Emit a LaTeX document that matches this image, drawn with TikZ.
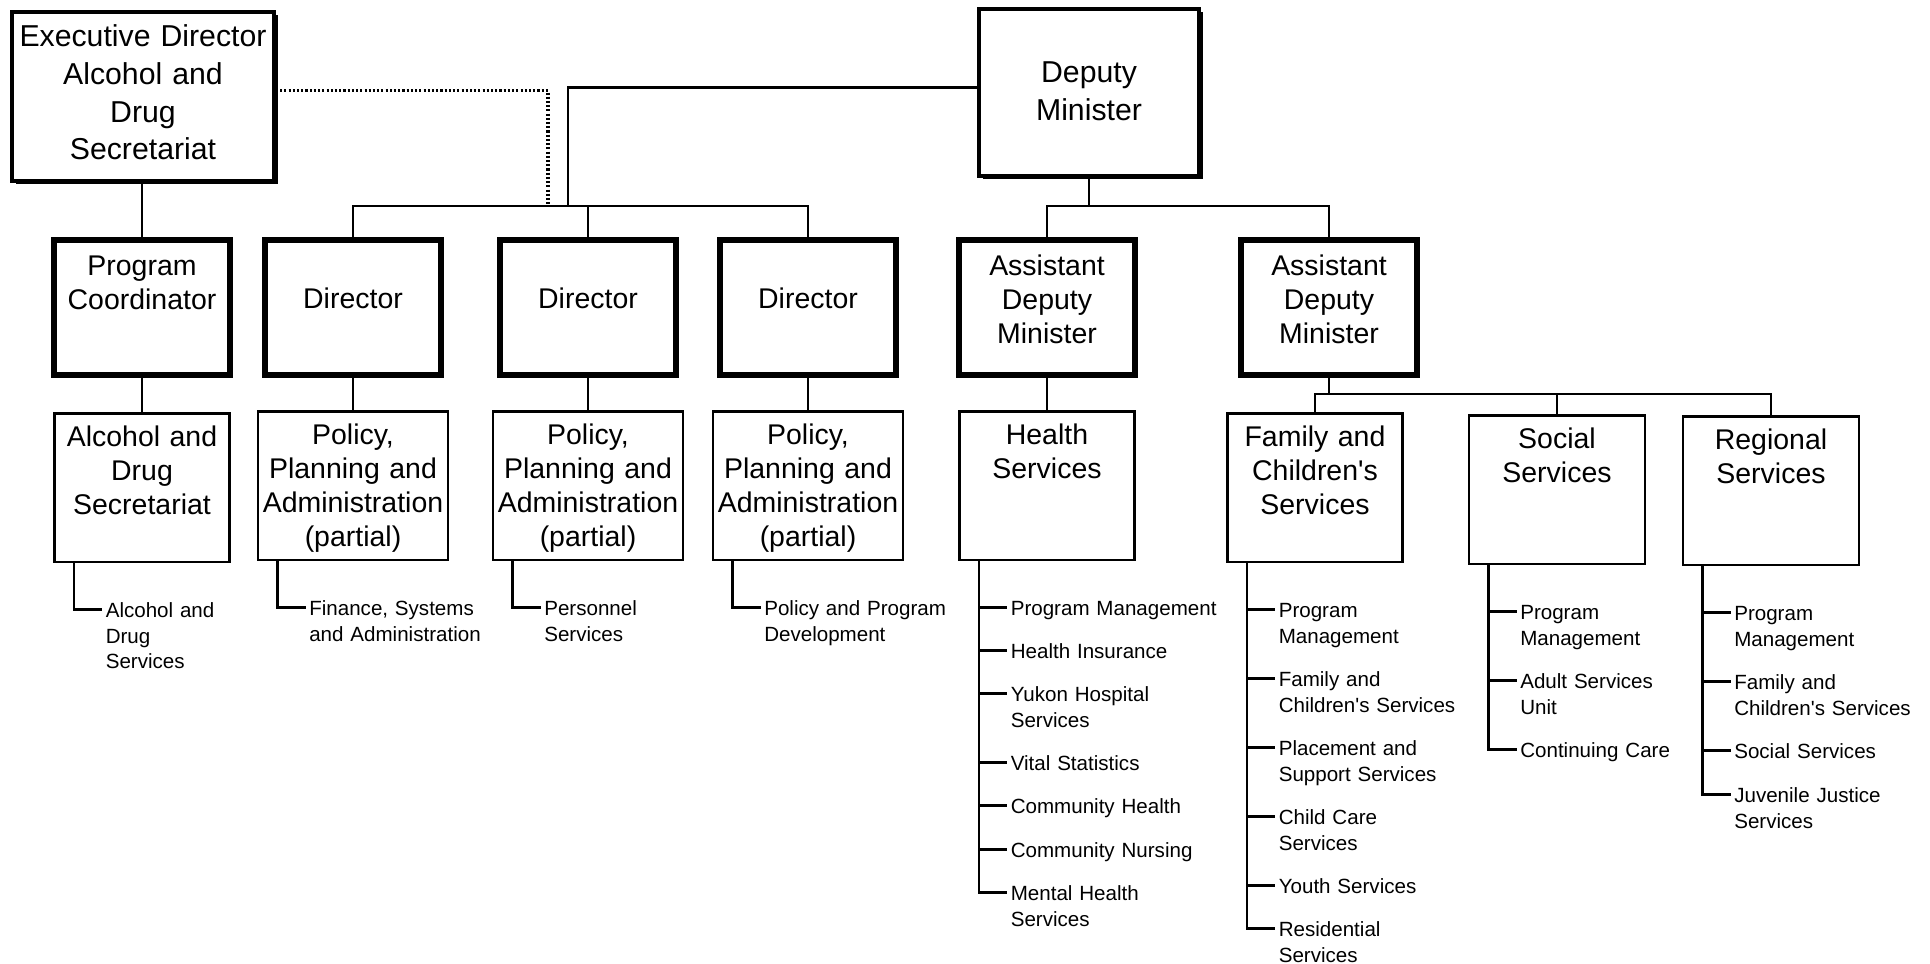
\documentclass[tikz,border=0pt]{standalone}
\usepackage{fontspec}
\setmainfont{Liberation Sans}
\usepackage{tikz}
\usetikzlibrary{positioning,shadows}
\tikzstyle{every node}=[inner sep=0pt]
\tikzstyle{topbox}=[rectangle,
                    draw,
                    fill=white,
                    line width=1.1pt,
                    align=center,
                    font=\fontsize{8.6}{10.7}\selectfont,
                    drop shadow={shadow xshift=1pt,shadow yshift=-1pt,fill=black,opacity=1}
                    ]
\tikzstyle{headbox}=[rectangle,
                     draw,
                     line width=1.8pt,
                     text width=1.76cm,
                     text height=.355cm,
                     text depth=.995cm,
                     align=center,
                     font=\fontsize{8.1}{9.7}\selectfont
                     ]
\tikzstyle{unitbox}=[rectangle,
                     draw,
                     line width=.8pt,
                     text width=1.75cm,
                     text height=.33cm,
                     text depth=1.155cm,
                     align=center,
                     font=\fontsize{8.1}{9.7}\selectfont
                     ]
\tikzstyle{item}=[text width=2.4cm,
                  align=left,
                  font=\fontsize{5.85}{7.35}\selectfont,
                  anchor=base west]
\tikzstyle{link}=[line width=.75pt]

\begin{document}
\begin{tikzpicture}
\path[use as bounding box] (0,0) rectangle (19.30,-9.64);
% top level
\node (exec) [topbox,anchor=north,text width=2.62cm,text height=.35cm,text depth=1.34cm] at (1.43,-.10) {Executive Director\\Alcohol and\\Drug\\Secretariat};
\node (dm)   [topbox,anchor=north,text width=2.2cm,text height=.74cm,text depth=.93cm] at (10.89,-.07) {Deputy\\Minister};
% second level
\node (pc)   [headbox,anchor=north] at (1.42,-2.37) {Program\\Coordinator};
\node (dir1) [headbox,anchor=north,text height=.685cm,text depth=.665cm] at (3.53,-2.37) {Director};
\node (dir2) [headbox,anchor=north,text height=.685cm,text depth=.665cm] at (5.88,-2.37) {Director};
\node (dir3) [headbox,anchor=north,text height=.685cm,text depth=.665cm] at (8.08,-2.37) {Director};
\node (adm1) [headbox,anchor=north] at (10.47,-2.37) {Assistant\\Deputy\\Minister};
\node (adm2) [headbox,anchor=north] at (13.29,-2.37) {Assistant\\Deputy\\Minister};
% third level
\node (ads)  [unitbox,anchor=north] at (1.42,-4.12) {Alcohol and\\Drug\\Secretariat};
\node (pol1) [unitbox,anchor=north,text width=1.9cm] at (3.53,-4.10) {Policy,\\Planning and\\Administration\\(partial)};
\node (pol2) [unitbox,anchor=north,text width=1.9cm] at (5.88,-4.10) {Policy,\\Planning and\\Administration\\(partial)};
\node (pol3) [unitbox,anchor=north,text width=1.9cm] at (8.08,-4.10) {Policy,\\Planning and\\Administration\\(partial)};
\node (hs)   [unitbox,anchor=north] at (10.47,-4.10) {Health\\Services};
\node (fcs)  [unitbox,anchor=north] at (13.15,-4.12) {Family and\\Children\textquotesingle s\\Services};
\node (ss)   [unitbox,anchor=north,text width=1.76cm] at (15.57,-4.14) {Social\\Services};
\node (rs)   [unitbox,anchor=north,text width=1.76cm] at (17.71,-4.15) {Regional\\Services};

% reporting lines
\coordinate (dbus) at (0,-2.06);
\coordinate (sbus) at (0,-3.94);
\coordinate (exdrop) at (5.48,-2.06);
\coordinate (dmdrop) at (5.68,-2.06);
\draw[link] (pc.north |- exec.south) -- (pc.north);
\draw[line width=.9pt,dash pattern=on .6pt off .6pt] ([yshift=.6mm]exec.east) -| (exdrop);
\draw[link] ([yshift=.5mm]dm.west) -| (dmdrop);
\draw[link] (dir1.north) |- (dbus -| dir3.north) -- (dir3.north);
\draw[link] (dir2.north) -- (dir2.north |- dbus);
\draw[link] (dm.south) -- (dm.south |- dbus);
\draw[link] (adm1.north) |- (dbus -| adm2.north) -- (adm2.north);
\draw[link] (adm2.south) -- (adm2.south |- sbus);
\draw[link] (fcs.north) |- (sbus -| rs.north) -- (rs.north);
\draw[link] (ss.north) -- (ss.north |- sbus);
\foreach \a/\b in {pc/ads,dir1/pol1,dir2/pol2,dir3/pol3,adm1/hs}
  \draw[link] (\a.south) -- (\b.north);

% Alcohol and Drug Secretariat
\node (ads1) [below right=5.4mm and 5.2mm of ads.south west,item] {Alcohol and\\Drug\\Services};
\draw[link] ([xshift=2.1mm]ads.south west) |- ([shift={(-.3mm,.75mm)}]ads1.base west);

% Policy, Planning and Administration
\node (pol1i) [below right=5.4mm and 5.2mm of pol1.south west,item] {Finance, Systems\\and Administration};
\node (pol2i) [below right=5.4mm and 5.2mm of pol2.south west,item] {Personnel\\Services};
\node (pol3i) [below right=5.4mm and 5.2mm of pol3.south west,item] {Policy and Program\\Development};
\foreach \n in {1,2,3}
  \draw[link] ([xshift=2.1mm]pol\n.south west) |- ([shift={(-.3mm,.75mm)}]pol\n i.base west);

% Health Services
\node (hs1) [below right=5.4mm and 5.2mm of hs.south west,item] {Program Management};
\node (hs2) [below=4.3mm of hs1.base west,item] {Health Insurance};
\node (hs3) [below=4.3mm of hs2.base west,item] {Yukon Hospital\\Services};
\node (hs4) [below=6.9mm of hs3.base west,item] {Vital Statistics};
\node (hs5) [below=4.3mm of hs4.base west,item] {Community Health};
\node (hs6) [below=4.4mm of hs5.base west,item] {Community Nursing};
\node (hs7) [below=4.3mm of hs6.base west,item] {Mental Health\\Services};
\draw[link] ([xshift=2.1mm]hs.south west) |- ([shift={(-.3mm,.75mm)}]hs7.base west);
\foreach \i in {1,...,6}
  \draw[link] ([shift={(-3.1mm,.75mm)}]hs\i.base west) -- ++(2.8mm,0);

% Family and Children's Services
\node (fcs1) [below right=5.4mm and 5.2mm of fcs.south west,item] {Program\\Management};
\node (fcs2) [below=6.9mm of fcs1.base west,item] {Family and\\Children\textquotesingle s Services};
\node (fcs3) [below=6.9mm of fcs2.base west,item] {Placement and\\Support Services};
\node (fcs4) [below=6.9mm of fcs3.base west,item] {Child Care\\Services};
\node (fcs5) [below=6.9mm of fcs4.base west,item] {Youth Services};
\node (fcs6) [below=4.3mm of fcs5.base west,item] {Residential\\Services};
\draw[link] ([xshift=2.1mm]fcs.south west) |- ([shift={(-.3mm,.75mm)}]fcs6.base west);
\foreach \i in {1,...,5}
  \draw[link] ([shift={(-3.1mm,.75mm)}]fcs\i.base west) -- ++(2.8mm,0);

% Social Services
\node (ss1) [below right=5.4mm and 5.2mm of ss.south west,item] {Program\\Management};
\node (ss2) [below=6.9mm of ss1.base west,item] {Adult Services\\Unit};
\node (ss3) [below=6.9mm of ss2.base west,item] {Continuing Care};
\draw[link] ([xshift=2.1mm]ss.south west) |- ([shift={(-.3mm,.75mm)}]ss3.base west);
\foreach \i in {1,2}
  \draw[link] ([shift={(-3.1mm,.75mm)}]ss\i.base west) -- ++(2.8mm,0);

% Regional Services
\node (rs1) [below right=5.4mm and 5.2mm of rs.south west,item] {Program\\Management};
\node (rs2) [below=6.9mm of rs1.base west,item] {Family and\\Children\textquotesingle s Services};
\node (rs3) [below=6.9mm of rs2.base west,item] {Social Services};
\node (rs4) [below=4.4mm of rs3.base west,item] {Juvenile Justice\\Services};
\draw[link] ([xshift=2.1mm]rs.south west) |- ([shift={(-.3mm,.75mm)}]rs4.base west);
\foreach \i in {1,2,3}
  \draw[link] ([shift={(-3.1mm,.75mm)}]rs\i.base west) -- ++(2.8mm,0);
\end{tikzpicture}
\end{document}
